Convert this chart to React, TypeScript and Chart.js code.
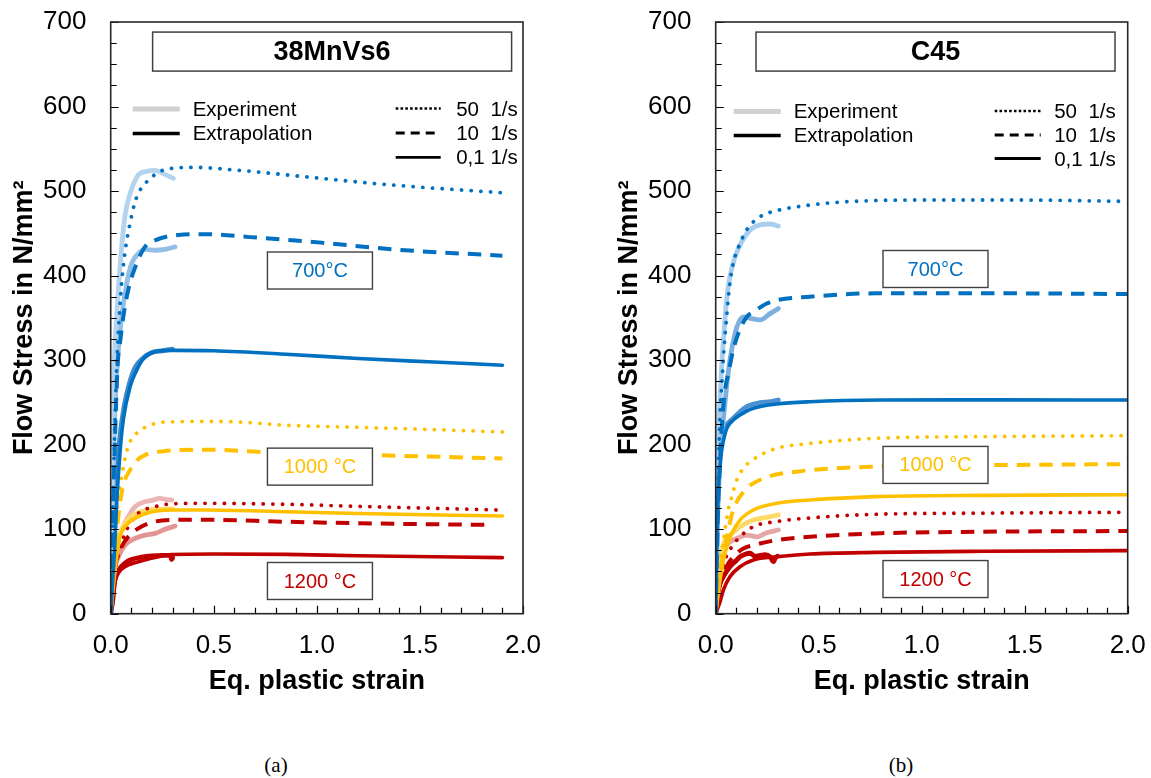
import React, { useEffect, useRef } from "react";
import { Chart, registerables } from "chart.js";

Chart.register(...registerables);

type Pt = [number, number];

// ================= (a) 38MnVs6 =================
// 700 °C
const A_700_EXT_50: Pt[] = [[0, 0], [0.01, 120], [0.02, 220], [0.029, 292], [0.037, 332], [0.053, 391], [0.073, 434], [0.094, 462], [0.118, 487], [0.147, 503], [0.175, 511], [0.223, 521], [0.271, 525.8], [0.4, 528], [0.6, 525], [1.02, 515], [1.37, 507], [1.9, 498]];
const A_700_EXP_50: Pt[] = [[0, 0], [0.005, 150], [0.015, 280], [0.029, 351], [0.045, 410], [0.069, 470], [0.094, 497], [0.134, 519], [0.17, 523], [0.215, 524.4], [0.26, 520], [0.304, 515]];
const A_700_EXT_10: Pt[] = [[0, 0], [0.01, 110], [0.02, 200], [0.034, 296], [0.045, 320], [0.061, 351], [0.085, 383], [0.126, 414.5], [0.166, 434], [0.199, 440], [0.328, 448], [0.457, 449], [0.676, 445.5], [1.02, 439], [1.37, 431], [1.9, 423.5]];
const A_700_EXP_10: Pt[] = [[0, 0], [0.01, 150], [0.02, 240], [0.037, 312], [0.053, 351], [0.078, 391], [0.102, 414.5], [0.134, 426], [0.166, 431], [0.215, 430], [0.263, 431], [0.312, 434]];
const A_700_EXT_01: Pt[] = [[0, 0], [0.01, 40], [0.018, 71.5], [0.029, 130.6], [0.045, 190], [0.061, 229], [0.094, 268.5], [0.126, 288], [0.16, 302], [0.215, 310], [0.3, 311.5], [0.5, 311], [0.85, 307], [1.2, 302], [1.54, 298], [1.9, 294]];
const A_700_EXP_01: Pt[] = [[0, 0], [0.008, 60], [0.018, 110], [0.03, 165], [0.045, 210], [0.065, 245], [0.09, 272], [0.12, 292], [0.16, 303], [0.2, 309], [0.25, 311], [0.3, 313]];
// 1000 °C
const A_1000_EXT_50: Pt[] = [[0, 0], [0.01, 50], [0.021, 91], [0.029, 114.7], [0.037, 138.4], [0.05, 158], [0.069, 184], [0.094, 203.5], [0.134, 215], [0.215, 225], [0.3, 227], [0.457, 227.5], [0.6, 227], [0.85, 223], [1.2, 220.5], [1.54, 218], [1.9, 215]];
const A_1000_EXT_10: Pt[] = [[0, 0], [0.01, 40], [0.025, 90], [0.037, 114.7], [0.05, 138.4], [0.069, 158], [0.094, 170], [0.13, 182], [0.166, 187.7], [0.25, 192], [0.457, 194], [0.85, 190], [1.2, 188], [1.54, 186], [1.9, 183.5]];
const A_1000_EXT_01: Pt[] = [[0, 0], [0.01, 25], [0.018, 44], [0.029, 67], [0.045, 91], [0.069, 103], [0.118, 112.8], [0.182, 119.5], [0.296, 122.7], [0.457, 122.7], [0.85, 120.6], [1.2, 118.5], [1.9, 115.6]];
const A_1000_EXP_01: Pt[] = [[0, 0], [0.01, 40], [0.025, 75], [0.045, 95], [0.07, 107], [0.1, 115], [0.15, 121], [0.2, 123], [0.3, 124]];
// 1200 °C
const A_1200_EXT_50: Pt[] = [[0, 0], [0.01, 35], [0.029, 61.5], [0.053, 83], [0.085, 103], [0.134, 118.8], [0.215, 126.6], [0.296, 130], [0.457, 130.6], [0.85, 129.4], [1.2, 127], [1.87, 122.7]];
const A_1200_EXP_50: Pt[] = [[0, 0], [0.01, 45], [0.02, 70], [0.037, 87], [0.061, 103], [0.085, 114.7], [0.118, 126.6], [0.166, 132.5], [0.2, 134], [0.239, 136.5], [0.27, 135], [0.296, 134.5]];
const A_1200_EXT_10: Pt[] = [[0, 0], [0.01, 35], [0.025, 60], [0.053, 79], [0.085, 91], [0.134, 101], [0.215, 109], [0.3, 111], [0.457, 111.2], [0.85, 108.8], [1.2, 107], [1.85, 105]];
const A_1200_EXP_10: Pt[] = [[0, 0], [0.01, 35], [0.02, 55], [0.037, 67], [0.069, 81], [0.118, 89], [0.166, 93], [0.215, 95], [0.263, 99.8], [0.312, 103.7]];
const A_1200_EXT_01: Pt[] = [[0, 0], [0.013, 16], [0.018, 32], [0.037, 47.8], [0.069, 55.6], [0.134, 61.5], [0.215, 66.5], [0.296, 70], [0.5, 70.6], [0.85, 70.2], [1.2, 68.5], [1.9, 66.3]];
const A_1200_EXP_01: Pt[] = [[0, 0], [0.013, 25], [0.02, 40], [0.04, 52], [0.07, 60], [0.1, 64], [0.15, 67], [0.2, 68.5], [0.25, 69], [0.29, 69], [0.295, 64], [0.3, 66]];

// ================= (b) C45 =================
// 700 °C
const B_700_EXT_50: Pt[] = [[0, 0], [0.01, 130], [0.021, 237], [0.029, 268.5], [0.04, 312], [0.053, 351], [0.069, 391], [0.085, 414.5], [0.118, 438], [0.15, 454], [0.215, 469.6], [0.296, 476.8], [0.458, 483.5], [0.61, 487], [0.95, 489.4], [1.47, 489.4], [2.0, 487.8]];
const B_700_EXP_50: Pt[] = [[0, 0], [0.01, 180], [0.02, 250], [0.029, 292], [0.04, 331.7], [0.053, 371], [0.069, 398.7], [0.094, 422], [0.126, 440], [0.167, 454], [0.215, 460], [0.264, 461], [0.304, 458.6]];
const B_700_EXT_10: Pt[] = [[0, 0], [0.01, 110], [0.025, 200], [0.037, 245], [0.045, 264.6], [0.061, 284], [0.085, 312], [0.11, 331.7], [0.15, 351], [0.183, 357], [0.248, 367], [0.296, 371], [0.458, 375], [0.776, 379], [1.4, 379], [2.0, 378.2]];
const B_700_EXP_10: Pt[] = [[0, 0], [0.01, 120], [0.025, 200], [0.04, 237], [0.053, 268.5], [0.069, 300], [0.094, 331.7], [0.11, 343.5], [0.134, 351], [0.167, 349.5], [0.215, 347.5], [0.264, 355], [0.304, 361]];
const B_700_EXT_01: Pt[] = [[0, 0], [0.005, 80], [0.014, 150], [0.025, 185], [0.048, 215], [0.085, 229], [0.118, 235], [0.183, 243], [0.296, 248], [0.458, 250.8], [0.8, 252.8], [1.3, 253], [2.0, 252.8]];
const B_700_EXP_01: Pt[] = [[0, 0], [0.005, 120], [0.014, 195], [0.03, 210], [0.05, 222], [0.085, 231], [0.118, 239], [0.15, 245], [0.215, 249.6], [0.264, 250.8], [0.304, 252.8]];
// 1000 °C
const B_1000_EXT_50: Pt[] = [[0, 0], [0.01, 30], [0.02, 55], [0.034, 79], [0.045, 99], [0.061, 122.7], [0.078, 138.4], [0.102, 158], [0.134, 172], [0.183, 182.6], [0.296, 195.7], [0.433, 200.8], [0.776, 207.5], [1.3, 209.5], [2.0, 210.6]];
const B_1000_EXT_10: Pt[] = [[0, 0], [0.01, 25], [0.025, 55], [0.045, 79], [0.061, 99], [0.085, 122.7], [0.134, 144], [0.231, 160], [0.393, 168], [0.776, 174], [1.47, 176], [2.0, 177]];
const B_1000_EXT_01: Pt[] = [[0, 0], [0.01, 20], [0.021, 40], [0.029, 51.7], [0.045, 71.5], [0.078, 95], [0.118, 110.8], [0.183, 122.7], [0.296, 130.6], [0.458, 134.5], [0.776, 138.5], [1.3, 140], [2.0, 140.8]];
const B_1000_EXP_01: Pt[] = [[0, 0], [0.01, 40], [0.025, 70], [0.045, 87], [0.069, 93], [0.118, 103], [0.183, 110.8], [0.248, 114], [0.304, 116.8]];
// 1200 °C
const B_1200_EXT_50: Pt[] = [[0, 0], [0.01, 25], [0.025, 45], [0.045, 63.5], [0.078, 79], [0.118, 91], [0.183, 103], [0.296, 109], [0.442, 113], [0.776, 117.6], [1.3, 119], [2.0, 120]];
const B_1200_EXT_10: Pt[] = [[0, 0], [0.01, 20], [0.025, 38], [0.053, 56], [0.085, 67.4], [0.134, 77], [0.215, 83], [0.296, 87], [0.458, 91], [0.776, 95], [1.3, 97], [2.0, 97.8]];
const B_1200_EXP_10: Pt[] = [[0, 0], [0.01, 40], [0.03, 70], [0.061, 83], [0.102, 89], [0.15, 93], [0.199, 91], [0.248, 95.8], [0.304, 99]];
const B_1200_EXT_01: Pt[] = [[0, 0], [0.021, 14], [0.037, 28], [0.069, 43.8], [0.118, 55.6], [0.183, 63.5], [0.296, 67.4], [0.458, 70.6], [0.776, 72.5], [1.3, 73.8], [2.0, 74.6]];
const B_1200_EXP_01: Pt[] = [[0, 0], [0.01, 25], [0.02, 35], [0.037, 43.8], [0.069, 55.6], [0.1, 63], [0.118, 67.4], [0.14, 70], [0.167, 71.5], [0.19, 68], [0.215, 69], [0.24, 70], [0.265, 67], [0.28, 61.5], [0.29, 66], [0.3, 68]];

// ================= texts / ticks =================
const X_TICK_STEP = 0.5;
const Y_TICK_STEP = 100;
const X_MINOR = 0.1;
const Y_MINOR = 25;
const X_TITLE = "Eq. plastic strain";
const Y_TITLE = "Flow Stress in N/mm²";
const LEGEND_LEFT = ["Experiment", "Extrapolation"];
const LEGEND_RIGHT = ["50  1/s", "10  1/s", "0,1 1/s"];
const TEMPS = ["700°C", "1000 °C", "1200 °C"];

const BLUE = "#0070C0";
const YELLOW = "#FFC000";
const RED = "#C00000";
const FONT = "'Liberation Sans', Arial, Helvetica, sans-serif";

type Style = "dot" | "dash" | "solid" | "exp";
interface Series { data: Pt[]; color: string; style: Style; }

const A_SERIES: Series[] = [
  { data: A_700_EXT_50, color: BLUE, style: "dot" },
  { data: A_700_EXT_10, color: BLUE, style: "dash" },
  { data: A_700_EXT_01, color: BLUE, style: "solid" },
  { data: A_1000_EXT_50, color: YELLOW, style: "dot" },
  { data: A_1000_EXT_10, color: YELLOW, style: "dash" },
  { data: A_1000_EXT_01, color: YELLOW, style: "solid" },
  { data: A_1200_EXT_50, color: RED, style: "dot" },
  { data: A_1200_EXT_10, color: RED, style: "dash" },
  { data: A_1200_EXT_01, color: RED, style: "solid" },
  { data: A_700_EXP_50, color: "#B4D3EE", style: "exp" },
  { data: A_700_EXP_10, color: "#93BEE5", style: "exp" },
  { data: A_700_EXP_01, color: "#3F8ACD", style: "exp" },
  { data: A_1000_EXP_01, color: "#FFD966", style: "exp" },
  { data: A_1200_EXP_50, color: "#ECB4B4", style: "exp" },
  { data: A_1200_EXP_10, color: "#E39494", style: "exp" },
  { data: A_1200_EXP_01, color: "#C00000", style: "exp" },
];

const B_SERIES: Series[] = [
  { data: B_700_EXT_50, color: BLUE, style: "dot" },
  { data: B_700_EXT_10, color: BLUE, style: "dash" },
  { data: B_700_EXT_01, color: BLUE, style: "solid" },
  { data: B_1000_EXT_50, color: YELLOW, style: "dot" },
  { data: B_1000_EXT_10, color: YELLOW, style: "dash" },
  { data: B_1000_EXT_01, color: YELLOW, style: "solid" },
  { data: B_1200_EXT_50, color: RED, style: "dot" },
  { data: B_1200_EXT_10, color: RED, style: "dash" },
  { data: B_1200_EXT_01, color: RED, style: "solid" },
  { data: B_700_EXP_50, color: "#A9CDEC", style: "exp" },
  { data: B_700_EXP_10, color: "#7DB0DF", style: "exp" },
  { data: B_700_EXP_01, color: "#4A90D2", style: "exp" },
  { data: B_1000_EXP_01, color: "#FFD966", style: "exp" },
  { data: B_1200_EXP_10, color: "#E6A6A6", style: "exp" },
  { data: B_1200_EXP_01, color: "#C00000", style: "exp" },
];

interface Box { text: string; color: string; x: number; y: number; }
interface PanelCfg {
  title: string;
  titleAt: [number, number];
  series: Series[];
  boxes: Box[];
  canvasLeft: number;
  canvasWidth: number;
  yAxisWidth: number;
  padRight: number;
  yTitlePad: number;
  legL: { lineX0: number; lineX1: number; textX: number; rows: number[] };
  legR: { lineX0: number; lineX1: number; textX: number; rows: number[] };
}

const PANEL_A: PanelCfg = {
  title: "38MnVs6",
  titleAt: [1.074, 665],
  series: A_SERIES,
  boxes: [
    { text: TEMPS[0], color: BLUE, x: 1.015, y: 406 },
    { text: TEMPS[1], color: YELLOW, x: 1.015, y: 174 },
    { text: TEMPS[2], color: RED, x: 1.015, y: 38.7 },
  ],
  canvasLeft: 0,
  canvasWidth: 575,
  yAxisWidth: 110.7,
  padRight: 52,
  yTitlePad: 9,
  legL: { lineX0: 22, lineX1: 69, textX: 82, rows: [88, 112.5] },
  legR: { lineX0: 285, lineX1: 330, textX: 345.5, rows: [88, 112.5, 136.8] },
};

const PANEL_B: PanelCfg = {
  title: "C45",
  titleAt: [1.067, 665],
  series: B_SERIES,
  boxes: [
    { text: TEMPS[0], color: BLUE, x: 1.067, y: 407.8 },
    { text: TEMPS[1], color: YELLOW, x: 1.067, y: 176 },
    { text: TEMPS[2], color: RED, x: 1.067, y: 41 },
  ],
  canvasLeft: 575,
  canvasWidth: 576,
  yAxisWidth: 140.7,
  padRight: 23.3,
  yTitlePad: 39,
  legL: { lineX0: 18, lineX1: 65, textX: 78, rows: [90.5, 114.5] },
  legR: { lineX0: 279, lineX1: 325, textX: 338.5, rows: [90.5, 114.5, 138] },
};

const CANVAS_H = 720;
const PLOT_TOP = 22;
const PLOT_BOTTOM = 613.7;

function toDataset(s: Series) {
  const base: any = {
    data: s.data.map(([x, y]) => ({ x, y })),
    borderColor: s.color,
    backgroundColor: s.color,
    pointRadius: 0,
    fill: false,
    cubicInterpolationMode: "monotone",
    borderJoinStyle: "round",
  };
  if (s.style === "dot") return { ...base, borderWidth: 3.8, borderDash: [0.1, 9.6], borderCapStyle: "round" };
  if (s.style === "dash") return { ...base, borderWidth: 4, borderDash: [13.5, 9], borderCapStyle: "butt" };
  if (s.style === "solid") return { ...base, borderWidth: 3.6, borderCapStyle: "round" };
  return { ...base, borderWidth: 4.8, borderCapStyle: "round" };
}

function makeDecor(cfg: PanelCfg) {
  return {
    id: "decor",
    afterDatasetsDraw(chart: any) {
      const { ctx, chartArea: a, scales } = chart;
      const xs = scales.x;
      const ys = scales.y;
      ctx.save();
      // inner ticks
      ctx.strokeStyle = "#000";
      ctx.lineWidth = 1.2;
      ctx.beginPath();
      for (let v = 0; v <= 700 + 1e-6; v += Y_MINOR) {
        const py = Math.round(ys.getPixelForValue(v)) + 0.5;
        const len = v % Y_TICK_STEP === 0 ? 8 : 6;
        ctx.moveTo(a.left, py);
        ctx.lineTo(a.left + len, py);
      }
      for (let i = 0; i <= 20; i++) {
        const v = i * X_MINOR;
        const px = Math.round(xs.getPixelForValue(v)) + 0.5;
        const len = i % 5 === 0 ? 8 : 6;
        ctx.moveTo(px, a.bottom);
        ctx.lineTo(px, a.bottom - len);
      }
      ctx.stroke();
      // frame
      ctx.strokeStyle = "#262626";
      ctx.lineWidth = 1.6;
      ctx.strokeRect(a.left, a.top, a.right - a.left, a.bottom - a.top);

      // title box
      const tcx = xs.getPixelForValue(cfg.titleAt[0]);
      const tcy = ys.getPixelForValue(cfg.titleAt[1]);
      const tw = 359, th = 39;
      ctx.fillStyle = "#fff";
      ctx.fillRect(tcx - tw / 2, tcy - th / 2, tw, th);
      ctx.strokeStyle = "#404040";
      ctx.lineWidth = 1.5;
      ctx.strokeRect(tcx - tw / 2, tcy - th / 2, tw, th);
      ctx.fillStyle = "#000";
      ctx.font = `bold 27px ${FONT}`;
      ctx.textAlign = "center";
      ctx.textBaseline = "middle";
      ctx.fillText(cfg.title, tcx, tcy + 1);

      // temperature boxes
      for (const b of cfg.boxes) {
        const cx = xs.getPixelForValue(b.x);
        const cy = ys.getPixelForValue(b.y);
        const w = 105, h = 37;
        ctx.fillStyle = "#fff";
        ctx.fillRect(cx - w / 2, cy - h / 2, w, h);
        ctx.strokeStyle = "#404040";
        ctx.lineWidth = 1.4;
        ctx.strokeRect(cx - w / 2, cy - h / 2, w, h);
        ctx.fillStyle = b.color;
        ctx.font = `20px ${FONT}`;
        ctx.fillText(b.text, cx, cy + 1);
      }

      // legend
      ctx.font = `20.5px ${FONT}`;
      ctx.textAlign = "left";
      ctx.textBaseline = "middle";
      const L = cfg.legL;
      const R = cfg.legR;
      const legStyles = [
        { color: "#D0D0D0", width: 5, dash: [] as number[], cap: "butt" },
        { color: "#000", width: 3.4, dash: [] as number[], cap: "butt" },
      ];
      L.rows.forEach((ry, i) => {
        const y = a.top + ry - 1;
        const st = legStyles[i];
        ctx.beginPath();
        ctx.strokeStyle = st.color;
        ctx.lineWidth = st.width;
        ctx.setLineDash(st.dash);
        ctx.lineCap = st.cap;
        ctx.moveTo(a.left + L.lineX0, y);
        ctx.lineTo(a.left + L.lineX1, y);
        ctx.stroke();
        ctx.fillStyle = "#000";
        ctx.fillText(LEGEND_LEFT[i], a.left + L.textX, a.top + ry);
      });
      const rStyles = [
        { width: 2.6, dash: [2.6, 2.2] },
        { width: 3, dash: [9, 6] },
        { width: 2.8, dash: [] as number[] },
      ];
      R.rows.forEach((ry, i) => {
        const y = a.top + ry - 1.5;
        const st = rStyles[i];
        ctx.beginPath();
        ctx.strokeStyle = "#000";
        ctx.lineWidth = st.width;
        ctx.setLineDash(st.dash);
        ctx.lineCap = "butt";
        ctx.moveTo(a.left + R.lineX0, y);
        ctx.lineTo(a.left + R.lineX1, y);
        ctx.stroke();
        ctx.setLineDash([]);
        ctx.fillStyle = "#000";
        ctx.fillText(LEGEND_RIGHT[i], a.left + R.textX, a.top + ry);
      });
      ctx.restore();
    },
  };
}

function Panel({ cfg }: { cfg: PanelCfg }) {
  const ref = useRef<HTMLCanvasElement | null>(null);
  useEffect(() => {
    if (!ref.current) return;
    const xAxisH = CANVAS_H - PLOT_BOTTOM;
    const chart = new Chart(ref.current, {
      type: "line",
      data: { datasets: cfg.series.map(toDataset) as any },
      options: {
        responsive: false,
        animation: false,
        devicePixelRatio: 1,
        events: [],
        layout: { padding: { top: PLOT_TOP, right: cfg.padRight, left: 0, bottom: 0 } },
        plugins: {
          legend: { display: false },
          tooltip: { enabled: false },
          title: { display: false },
        },
        scales: {
          x: {
            type: "linear",
            min: 0,
            max: 2,
            grid: { display: false, drawTicks: false },
            border: { display: false },
            ticks: {
              stepSize: X_TICK_STEP,
              padding: 17,
              color: "#000",
              maxRotation: 0,
              autoSkip: false,
              font: { family: FONT, size: 26 },
              callback: (v: any) => Number(v).toFixed(1),
            },
            title: {
              display: true,
              text: X_TITLE,
              color: "#000",
              font: { family: FONT, size: 27, weight: "bold" },
              padding: { top: 0, bottom: 21.8 },
            },
            afterFit: (s: any) => {
              s.height = xAxisH;
              s.paddingLeft = 0;
              s.paddingRight = 0;
              s.paddingTop = 0;
              s.paddingBottom = 0;
            },
          },
          y: {
            type: "linear",
            min: 0,
            max: 700,
            grid: { display: false, drawTicks: false },
            border: { display: false },
            ticks: {
              stepSize: Y_TICK_STEP,
              padding: 24.3,
              color: "#000",
              font: { family: FONT, size: 26 },
              callback: (v: any) => String(v),
            },
            title: {
              display: true,
              text: Y_TITLE,
              color: "#000",
              font: { family: FONT, size: 27, weight: "bold" },
              padding: { top: cfg.yTitlePad - 0.6, bottom: 0 },
            },
            afterFit: (s: any) => {
              s.width = cfg.yAxisWidth;
              s.paddingTop = 0;
              s.paddingBottom = 0;
              s.paddingLeft = 0;
              s.paddingRight = 0;
            },
          },
        },
      } as any,
      plugins: [makeDecor(cfg)],
    });
    return () => chart.destroy();
  }, [cfg]);
  return (
    <canvas
      ref={ref}
      width={cfg.canvasWidth}
      height={CANVAS_H}
      style={{ position: "absolute", left: cfg.canvasLeft, top: 0, width: cfg.canvasWidth, height: CANVAS_H }}
    />
  );
}

const capStyle: React.CSSProperties = {
  position: "absolute",
  top: 753,
  width: 100,
  textAlign: "center",
  fontFamily: "'Liberation Serif', 'Times New Roman', serif",
  fontSize: 21,
  color: "#000",
  lineHeight: "normal",
};

export default function App() {
  return (
    <div style={{ position: "absolute", left: 0, top: 0, width: 1151, height: 778, background: "#fff", overflow: "hidden" }}>
      <Panel cfg={PANEL_A} />
      <Panel cfg={PANEL_B} />
      <div style={{ ...capStyle, left: 226 }}>(a)</div>
      <div style={{ ...capStyle, left: 851 }}>(b)</div>
    </div>
  );
}
